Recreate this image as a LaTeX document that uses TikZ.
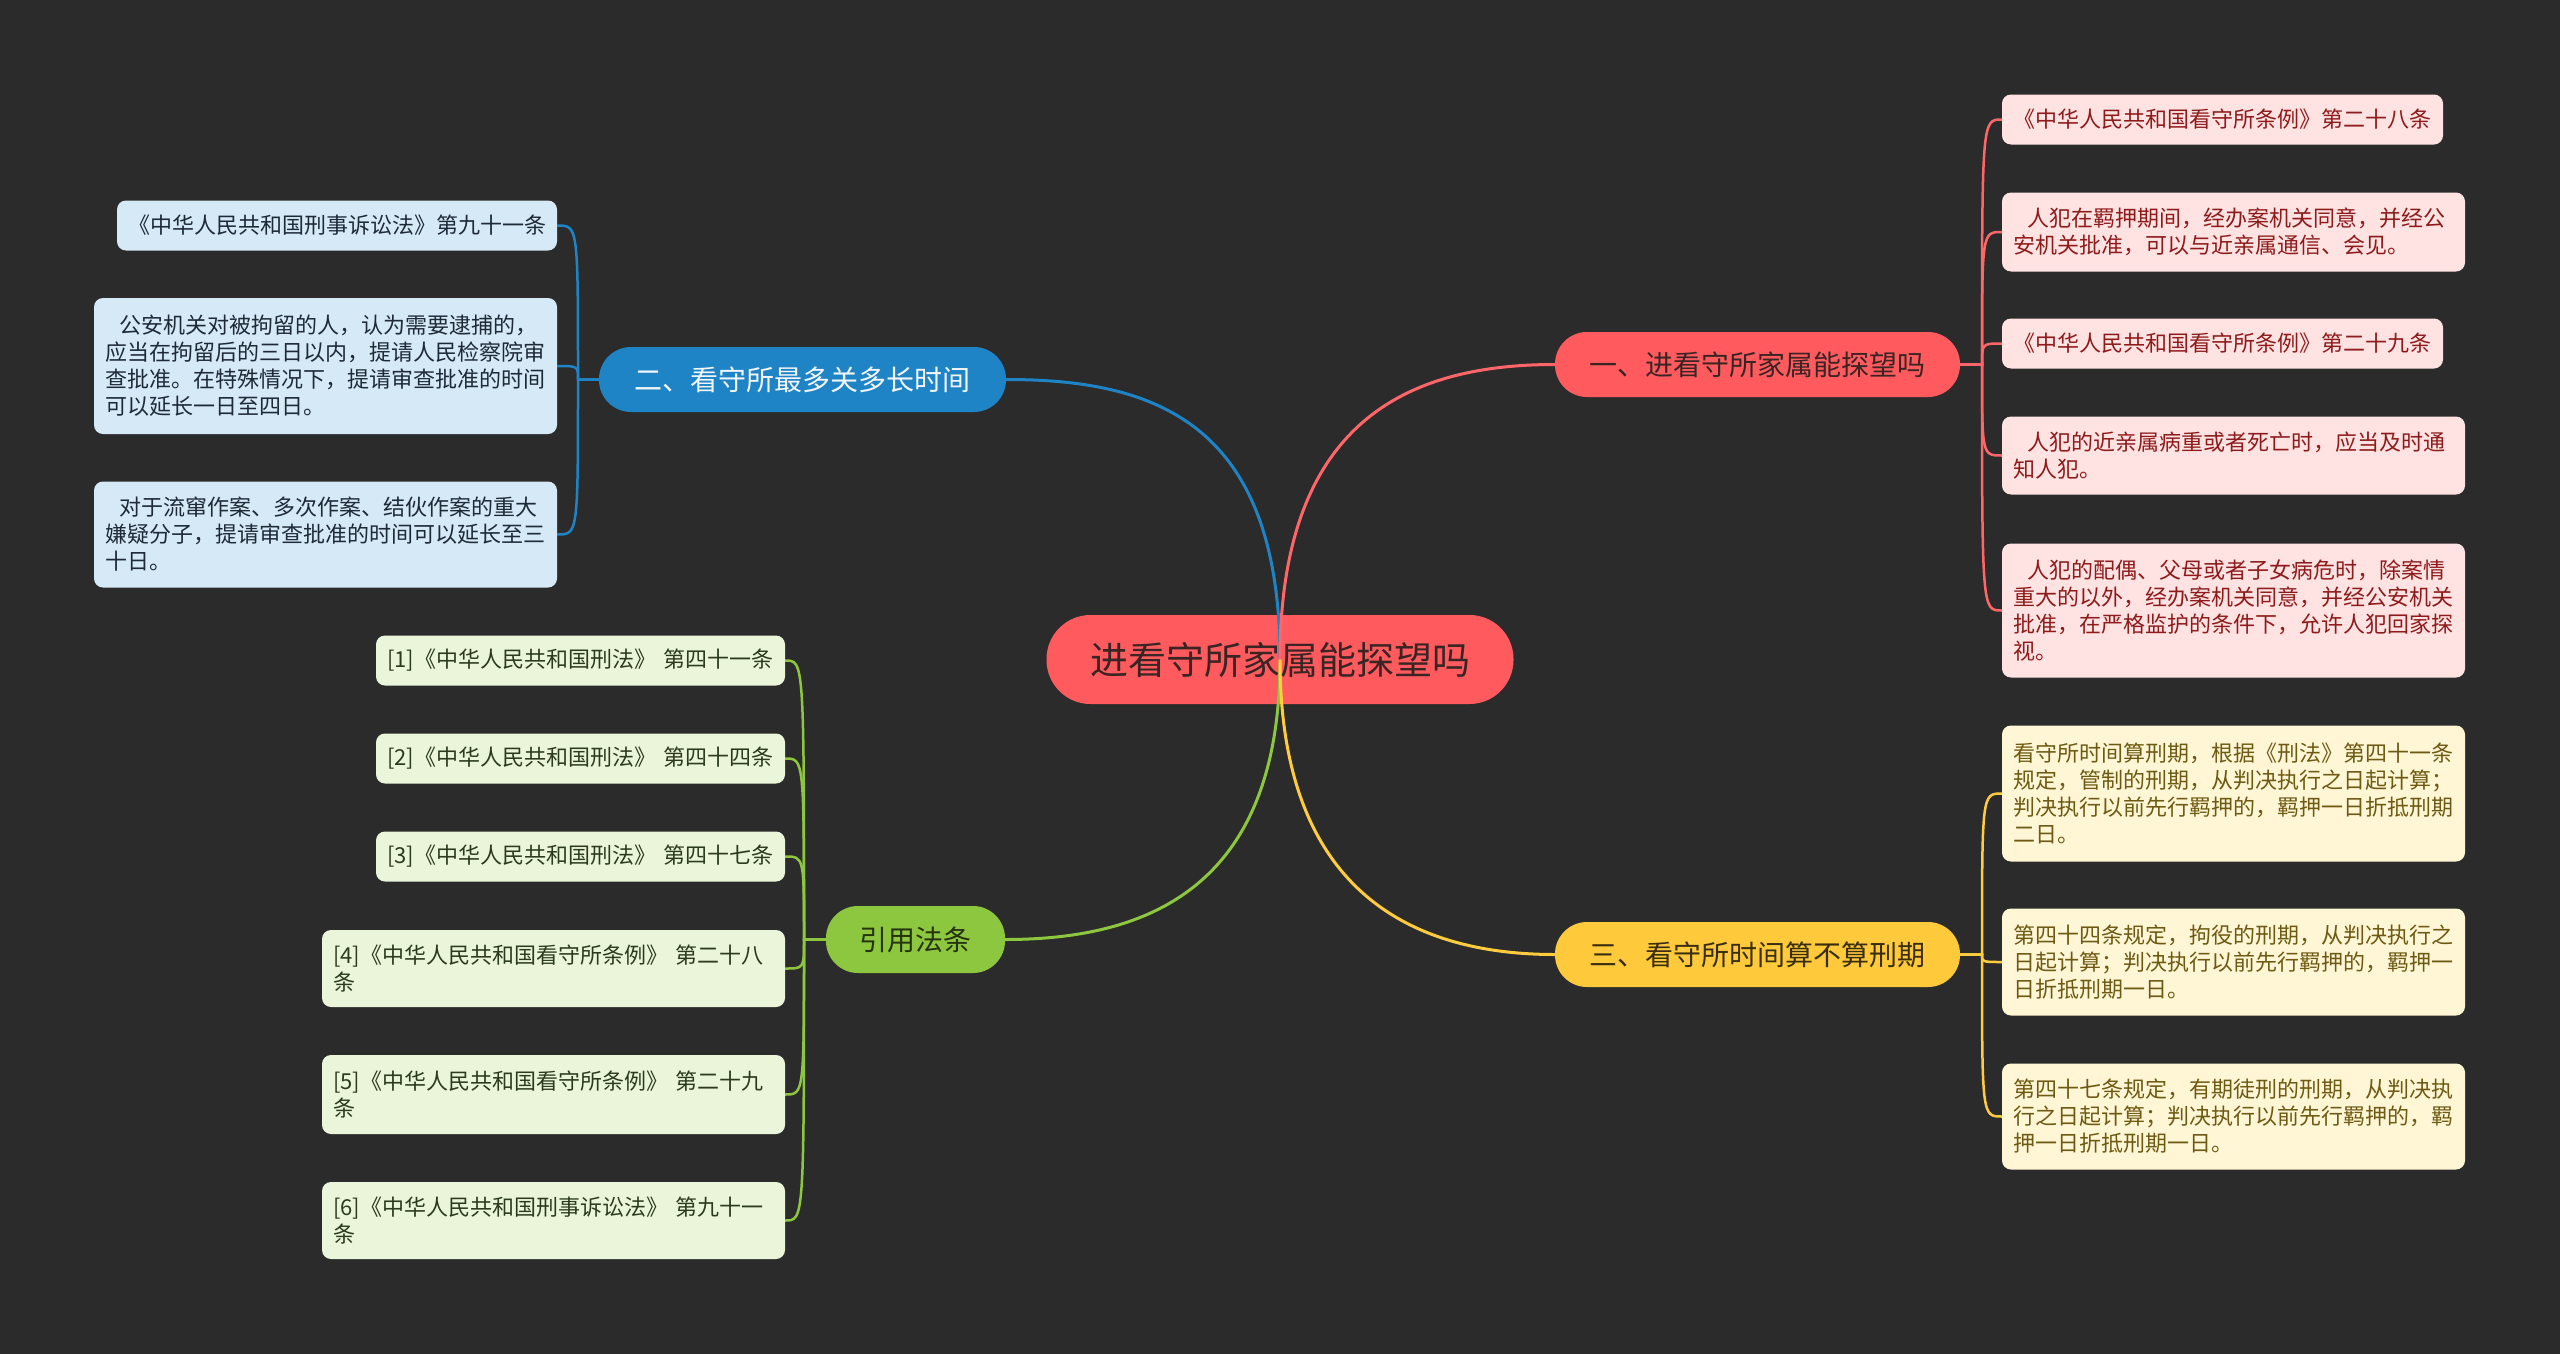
\documentclass[tikz,border=0pt]{standalone}
\usepackage{fontspec}
\setmainfont{Noto Sans CJK SC}
\definecolor{bgc}{HTML}{2B2B2B}
\definecolor{rootfill}{HTML}{FF5B5E}
\definecolor{roottext}{HTML}{3A2424}
\definecolor{redb}{HTML}{FF5B5E}
\definecolor{redbt}{HTML}{3A2424}
\definecolor{blueb}{HTML}{1F84C6}
\definecolor{bluebt}{HTML}{F2F6FA}
\definecolor{yellowb}{HTML}{FFC93C}
\definecolor{yellowbt}{HTML}{3A2E10}
\definecolor{greenb}{HTML}{8DC63F}
\definecolor{greenbt}{HTML}{26330F}
\definecolor{redline}{HTML}{FF6669}
\definecolor{blueline}{HTML}{1F84C6}
\definecolor{yellowline}{HTML}{FFCB3F}
\definecolor{greenline}{HTML}{8DC63F}
\definecolor{redleaf}{HTML}{FFE2E2}
\definecolor{redtext}{HTML}{8E1B1B}
\definecolor{blueleaf}{HTML}{D5E9F6}
\definecolor{bluetext}{HTML}{1E2A36}
\definecolor{yellowleaf}{HTML}{FFF6D6}
\definecolor{yellowtext}{HTML}{6E5A12}
\definecolor{greenleaf}{HTML}{EBF5DA}
\definecolor{greentext}{HTML}{2C3A1E}
\tikzset{
  rootbox/.style={rectangle, rounded corners=44pt, fill=rootfill, text=roottext,
    minimum width=467pt, minimum height=89pt, inner sep=0pt, font=\fontsize{38}{46}\selectfont},
  branchbox/.style={rectangle, rounded corners=32pt, minimum height=65pt, inner sep=0pt,
    font=\fontsize{28}{34}\selectfont},
  leafbox/.style={rectangle, rounded corners=9pt, inner xsep=11pt, inner ysep=0pt, align=left,
    font=\fontsize{22}{27}\selectfont},
  wide/.style={minimum width=463pt, text width=441pt},
  redleafbox/.style={leafbox, fill=redleaf, text=redtext},
  blueleafbox/.style={leafbox, fill=blueleaf, text=bluetext},
  yellowleafbox/.style={leafbox, fill=yellowleaf, text=yellowtext},
  greenleafbox/.style={leafbox, fill=greenleaf, text=greentext},
  mainline/.style={line width=3pt},
  subline/.style={line width=2.5pt},
}
\newcommand{\ind}{\hspace*{14pt}}
\begin{document}
\begin{tikzpicture}[x=1pt,y=-1pt]
\useasboundingbox (0,0) rectangle (2560,1354);
\fill[bgc] (0,0) rectangle (2560,1354);

% root
\node[rootbox] (root) at (1280,659.5) {进看守所家属能探望吗};

% branches
\node[branchbox, fill=redb, text=redbt, minimum width=405pt] (b1) at (1757.5,364.5) {一、进看守所家属能探望吗};
\node[branchbox, fill=blueb, text=bluebt, minimum width=407pt] (b2) at (802.5,379.5) {二、看守所最多关多长时间};
\node[branchbox, fill=yellowb, text=yellowbt, minimum width=405pt] (b3) at (1757.5,954.5) {三、看守所时间算不算刑期};
\node[branchbox, fill=greenb, text=greenbt, minimum width=179pt, minimum height=67pt] (b4) at (915.5,939.5) {引用法条};

% red leaves
\node[redleafbox, minimum width=441pt, text width=419pt, minimum height=50pt] (r1) at (2222.5,119.5) {《中华人民共和国看守所条例》第二十八条};
\node[redleafbox, wide, minimum height=79pt] (r2) at (2233.5,232) {\ind 人犯在羁押期间，经办案机关同意，并经公\\安机关批准，可以与近亲属通信、会见。};
\node[redleafbox, minimum width=441pt, text width=419pt, minimum height=50pt] (r3) at (2222.5,343.5) {《中华人民共和国看守所条例》第二十九条};
\node[redleafbox, wide, minimum height=78pt] (r4) at (2233.5,455.5) {\ind 人犯的近亲属病重或者死亡时，应当及时通\\知人犯。};
\node[redleafbox, wide, minimum height=134pt] (r5) at (2233.5,610.5) {\ind 人犯的配偶、父母或者子女病危时，除案情\\重大的以外，经办案机关同意，并经公安机关\\批准，在严格监护的条件下，允许人犯回家探\\视。};

% yellow leaves
\node[yellowleafbox, wide, minimum height=136pt] (y1) at (2233.5,793.5) {看守所时间算刑期，根据《刑法》第四十一条\\规定，管制的刑期，从判决执行之日起计算；\\判决执行以前先行羁押的，羁押一日折抵刑期\\二日。};
\node[yellowleafbox, wide, minimum height=107pt] (y2) at (2233.5,962) {第四十四条规定，拘役的刑期，从判决执行之\\日起计算；判决执行以前先行羁押的，羁押一\\日折抵刑期一日。};
\node[yellowleafbox, wide, minimum height=106pt] (y3) at (2233.5,1116.5) {第四十七条规定，有期徒刑的刑期，从判决执\\行之日起计算；判决执行以前先行羁押的，羁\\押一日折抵刑期一日。};

% blue leaves
\node[blueleafbox, minimum width=440pt, text width=418pt, minimum height=50pt] (u1) at (337,225.5) {《中华人民共和国刑事诉讼法》第九十一条};
\node[blueleafbox, wide, minimum height=136pt] (u2) at (325.5,366) {\ind 公安机关对被拘留的人，认为需要逮捕的，\\应当在拘留后的三日以内，提请人民检察院审\\查批准。在特殊情况下，提请审查批准的时间\\可以延长一日至四日。};
\node[blueleafbox, wide, minimum height=106pt] (u3) at (325.5,534.5) {\ind 对于流窜作案、多次作案、结伙作案的重大\\嫌疑分子，提请审查批准的时间可以延长至三\\十日。};

% green leaves
\node[greenleafbox, minimum width=409pt, text width=387pt, minimum height=50pt] (g1) at (580.5,660.5) {[1]《中华人民共和国刑法》~第四十一条};
\node[greenleafbox, minimum width=409pt, text width=387pt, minimum height=50pt] (g2) at (580.5,758.5) {[2]《中华人民共和国刑法》~第四十四条};
\node[greenleafbox, minimum width=409pt, text width=387pt, minimum height=50pt] (g3) at (580.5,856.5) {[3]《中华人民共和国刑法》~第四十七条};
\node[greenleafbox, wide, minimum height=77pt] (g4) at (553.5,968.5) {[4]《中华人民共和国看守所条例》~第二十八\\条};
\node[greenleafbox, wide, minimum height=79pt] (g5) at (553.5,1094.5) {[5]《中华人民共和国看守所条例》~第二十九\\条};
\node[greenleafbox, wide, minimum height=77pt] (g6) at (553.5,1220.5) {[6]《中华人民共和国刑事诉讼法》~第九十一\\条};

% main connectors
\draw[mainline, blueline] (root.center) .. controls +(0,-240) and +(145,0) .. (b2.east);
\draw[mainline, redline] (root.center) .. controls +(0,-240) and +(-145,0) .. (b1.west);
\draw[mainline, greenline] (root.center) .. controls +(0,230) and +(140,0) .. (b4.east);
\draw[mainline, yellowline] (root.center) .. controls +(0,230) and +(-145,0) .. (b3.west);

% trunk points
\coordinate (rt) at (1982,364.5);
\coordinate (yt) at (1982,954.5);
\coordinate (bt) at (578,379.5);
\coordinate (gt) at (804,939.5);

% sub connectors
\foreach \c in {r1,r2,r3,r4,r5}
  \draw[subline, redline] (b1.east) -- (rt) .. controls (rt |- \c.west) .. (\c.west);
\foreach \c in {y1,y2,y3}
  \draw[subline, yellowline] (b3.east) -- (yt) .. controls (yt |- \c.west) .. (\c.west);
\foreach \c in {u1,u2,u3}
  \draw[subline, blueline] (b2.west) -- (bt) .. controls (bt |- \c.east) .. (\c.east);
\foreach \c in {g1,g2,g3,g4,g5,g6}
  \draw[subline, greenline] (b4.west) -- (gt) .. controls (gt |- \c.east) .. (\c.east);
\end{tikzpicture}
\end{document}
